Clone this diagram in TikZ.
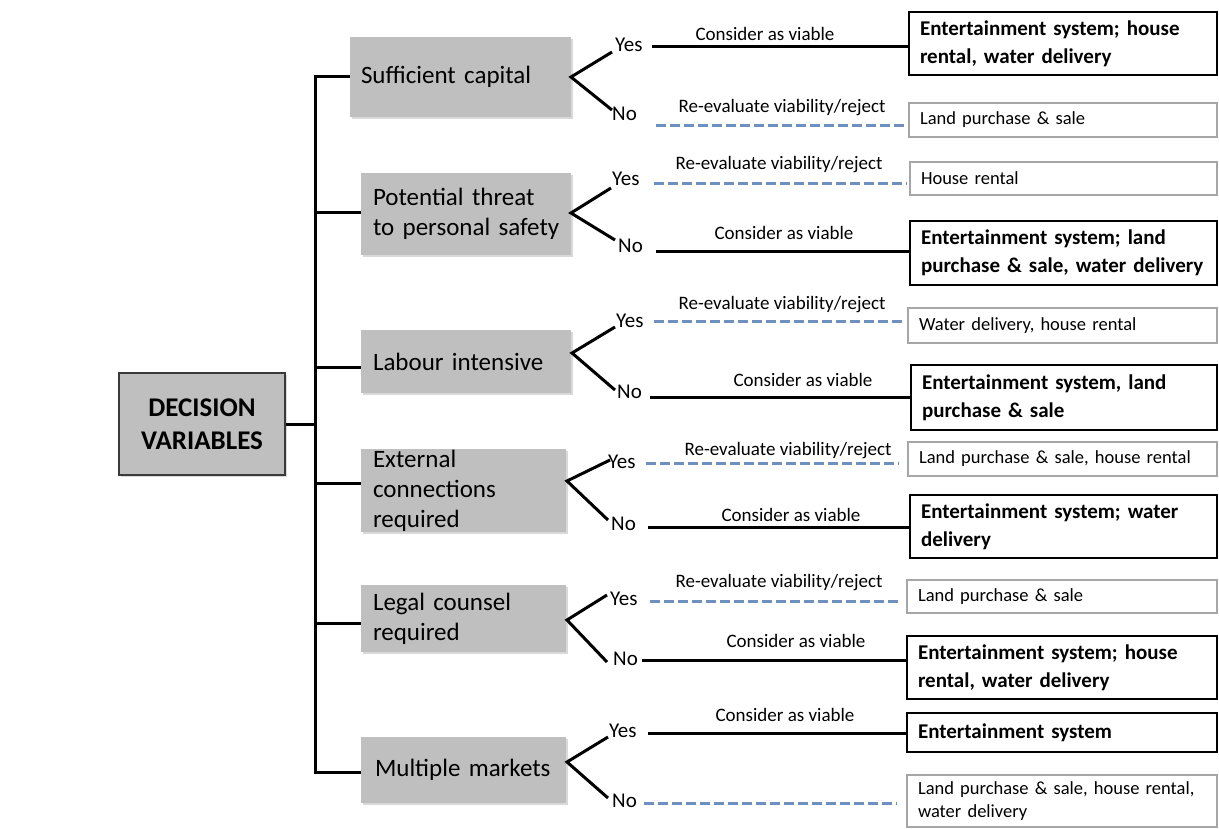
\documentclass[tikz,border=0pt]{standalone}
\usepackage{fontspec}
\setmainfont{Carlito}
\usetikzlibrary{calc,shadows}
\definecolor{boxgray}{HTML}{BFBFBF}
\definecolor{dashblue}{HTML}{6F8FBF}
\definecolor{thinborder}{HTML}{A6A6A6}
\definecolor{dvborder}{HTML}{3A3A3A}
\begin{document}
\begin{tikzpicture}[x=1pt,y=-1pt,
  varbox/.style={fill=boxgray, inner ysep=0pt, align=left,
    font=\fontsize{25}{30}\selectfont,
    drop shadow={shadow xshift=1.5pt,shadow yshift=-1.5pt,opacity=0.3}},
  dvbox/.style={fill=boxgray, draw=dvborder, line width=1.5pt, align=center,
    inner sep=0pt, font=\bfseries\fontsize{27}{33}\selectfont,
    drop shadow={shadow xshift=1.5pt,shadow yshift=-1.5pt,opacity=0.3}},
  goodbox/.style={draw=black, line width=2pt, inner xsep=11pt, inner ysep=0pt,
    align=left, font=\bfseries\fontsize{21}{28}\selectfont},
  rejbox/.style={draw=thinborder, line width=1.2pt, inner xsep=11pt, inner ysep=0pt,
    align=left, font=\fontsize{18.5}{23}\selectfont},
  tree/.style={line width=3pt, black, line join=miter},
  viable/.style={line width=3pt, black},
  reject/.style={line width=3pt, dashblue, dash pattern=on 10pt off 4pt},
  yn/.style={font=\fontsize{21}{25}\selectfont, inner sep=0pt, anchor=base west},
  lbl/.style={font=\fontsize{19}{23}\selectfont, inner sep=0pt, anchor=base},
]
\useasboundingbox (0,0) rectangle (1219,828);

% root
\node[dvbox, minimum width=166pt, minimum height=102pt] (dv) at (202,424) {DECISION\\VARIABLES};

% decision variables
\node[varbox, inner xsep=11pt, text width=199pt, minimum height=80pt] (b1) at (460.5,77) {\mbox{Sufficient capital}};
\node[varbox, inner xsep=12pt, text width=186pt, minimum height=82pt] (b2) at (466,214) {\mbox{Potential threat}\\\mbox{to personal safety}};
\node[varbox, inner xsep=12pt, text width=186pt, minimum height=63pt] (b3) at (466,361.5) {\mbox{Labour intensive}};
\node[varbox, inner xsep=12pt, text width=181pt, minimum height=83pt] (b4) at (463.5,490.5) {External\\connections\\required};
\node[varbox, inner xsep=12pt, text width=181pt, minimum height=67pt] (b5) at (463.5,618.5) {\mbox{Legal counsel}\\required};
\node[varbox, inner xsep=14pt, text width=177pt, minimum height=66pt] (b6) at (463.5,770) {\mbox{Multiple markets}};

% trunk
\coordinate (t1) at (315,76);
\coordinate (t2) at (315,212);
\coordinate (t3) at (315,367);
\coordinate (t4) at (315,483);
\coordinate (t5) at (315,623);
\coordinate (t6) at (315,772);
\draw[tree] (b1.west |- t1) -- (t1) -- (t6) -- (b6.west |- t6);
\draw[tree] (t2) -- (b2.west |- t2);
\draw[tree] (t3) -- (b3.west |- t3);
\draw[tree] (t4) -- (b4.west |- t4);
\draw[tree] (t5) -- (b5.west |- t5);
\draw[tree] (dv.east) -- (dv.east -| t1);

% outcome boxes
\node[goodbox, text width=286pt, minimum height=63pt] (r1) at (1063,43.5) {\mbox{Entertainment system; house}\\\mbox{rental, water delivery}};
\node[rejbox, text width=286pt, minimum height=34pt] (r2) at (1063,120) {Land purchase \& sale};
\node[rejbox, text width=285pt, minimum height=33pt] (r3) at (1063.5,178.5) {House rental};
\node[goodbox, text width=285pt, minimum height=64pt] (r4) at (1063.5,253) {\mbox{Entertainment system; land}\\\mbox{purchase \& sale, water delivery}};
\node[rejbox, text width=287pt, minimum height=35pt] (r5) at (1062.5,325.5) {Water delivery, house rental};
\node[goodbox, text width=284pt, minimum height=65pt] (r6) at (1064,397.5) {\mbox{Entertainment system, land}\\\mbox{purchase \& sale}};
\node[rejbox, text width=287pt, minimum height=34pt] (r7) at (1062.5,459) {Land purchase \& sale, house rental};
\node[goodbox, text width=285pt, minimum height=63pt] (r8) at (1063.5,526.5) {\mbox{Entertainment system; water}\\\mbox{delivery}};
\node[rejbox, text width=288pt, minimum height=33pt] (r9) at (1062,596.5) {Land purchase \& sale};
\node[goodbox, text width=288pt, minimum height=63pt] (r10) at (1062,667.5) {\mbox{Entertainment system; house}\\\mbox{rental, water delivery}};
\node[goodbox, text width=288pt, minimum height=39pt] (r11) at (1062,732.5) {Entertainment system};
\node[rejbox, text width=288pt, minimum height=52pt] (r12) at (1062,801) {\mbox{Land purchase \& sale, house rental,}\\\mbox{water delivery}};

% V branches
\coordinate (v1) at (571,77);  \coordinate (ye1) at (612,52);  \coordinate (ne1) at (612,110);
\coordinate (v2) at (571,213); \coordinate (ye2) at (611,188); \coordinate (ne2) at (615,240);
\coordinate (v3) at (572,353); \coordinate (ye3) at (615,327); \coordinate (ne3) at (615,390);
\coordinate (v4) at (567,481); \coordinate (ye4) at (610,460); \coordinate (ne4) at (608,520);
\coordinate (v5) at (567,620); \coordinate (ye5) at (607,595); \coordinate (ne5) at (607,662);
\coordinate (v6) at (567,762); \coordinate (ye6) at (608,737); \coordinate (ne6) at (608,798);
\foreach \k in {1,...,6}{\draw[tree] (ye\k) -- (v\k) -- (ne\k);}

% Yes / No labels
\node[yn] (y1) at (615,51) {Yes};
\node[yn] (n1) at (612,120) {No};
\node[yn] (y2) at (612,185) {Yes};
\node[yn] (n2) at (618,252) {No};
\node[yn] (y3) at (616,327) {Yes};
\node[yn] (n3) at (617,398) {No};
\node[yn] (y4) at (608,468) {Yes};
\node[yn] (n4) at (611,530) {No};
\node[yn] (y5) at (610,605) {Yes};
\node[yn] (n5) at (613,665) {No};
\node[yn] (y6) at (609,737) {Yes};
\node[yn] (n6) at (612,807) {No};

% outcome connectors
\coordinate (s1) at (652,46);
\coordinate (s2) at (656,125);
\coordinate (s3) at (654,183);
\coordinate (s4) at (656,251);
\coordinate (s5) at (654,321);
\coordinate (s6) at (650,397);
\coordinate (s7) at (646,463);
\coordinate (s8) at (648,527);
\coordinate (s9) at (650,601);
\coordinate (s10) at (642,660);
\coordinate (s11) at (648,733);
\coordinate (s12) at (644,803);
\draw[viable] (s1) -- (s1 -| r1.west);
\draw[reject] (s2) -- ([xshift=-3pt]s2 -| r2.west);
\draw[reject] (s3) -- ([xshift=-2pt]s3 -| r3.west);
\draw[viable] (s4) -- (s4 -| r4.west);
\draw[reject] (s5) -- ([xshift=-3pt]s5 -| r5.west);
\draw[viable] (s6) -- (s6 -| r6.west);
\draw[reject] (s7) -- ([xshift=-8pt]s7 -| r7.west);
\draw[viable] (s8) -- (s8 -| r8.west);
\draw[reject] (s9) -- ([xshift=-6pt]s9 -| r9.west);
\draw[viable] (s10) -- (s10 -| r10.west);
\draw[viable] (s11) -- (s11 -| r11.west);
\draw[reject] (s12) -- ([xshift=-10pt]s12 -| r12.west);

% connector labels
\node[lbl] (l1) at (765,40) {Consider as viable};
\node[lbl] (l2) at (782,112) {Re-evaluate viability/reject};
\node[lbl] (l3) at (779,169) {Re-evaluate viability/reject};
\node[lbl] (l4) at (784,239) {Consider as viable};
\node[lbl] (l5) at (782,309) {Re-evaluate viability/reject};
\node[lbl] (l6) at (803,386) {Consider as viable};
\node[lbl] (l7) at (788,455) {Re-evaluate viability/reject};
\node[lbl] (l8) at (791,521) {Consider as viable};
\node[lbl] (l9) at (779,587) {Re-evaluate viability/reject};
\node[lbl] (l10) at (796,647) {Consider as viable};
\node[lbl] (l11) at (785,721) {Consider as viable};
\end{tikzpicture}
\end{document}
